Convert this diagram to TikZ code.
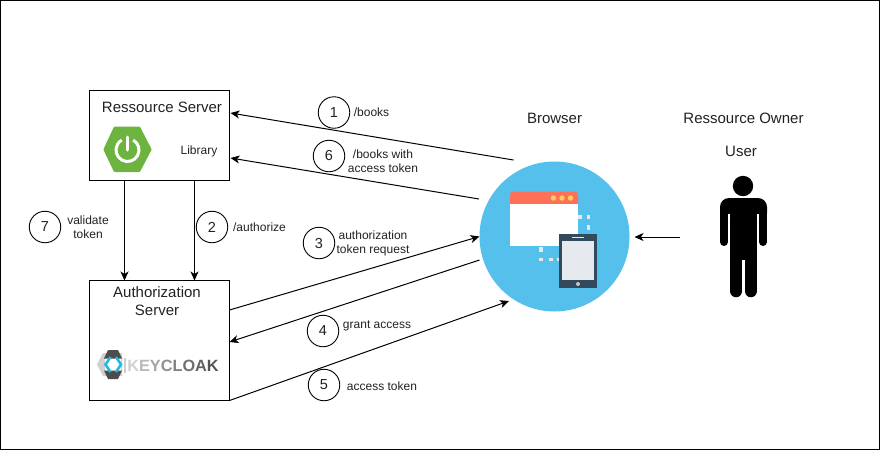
\documentclass[tikz,border=0pt]{standalone}
\usepackage{fontspec}
\setmainfont{Liberation Sans}
\usetikzlibrary{arrows.meta,calc}
\definecolor{ink}{HTML}{000000}
\definecolor{txt}{HTML}{222222}
\definecolor{sky}{HTML}{54C0EB}
\definecolor{slate}{HTML}{324A5E}
\definecolor{pale}{HTML}{E6E9EE}
\definecolor{coral}{HTML}{FF7058}
\definecolor{amber}{HTML}{FFD15C}
\definecolor{springg}{HTML}{6DB33F}
\definecolor{kcd}{HTML}{4D4D4D}
\definecolor{kcl}{HTML}{D0D0D0}
\definecolor{kcc}{HTML}{22B8E6}
\tikzset{
  box/.style={draw=ink,line width=1pt,fill=white,rectangle,inner sep=0pt,outer sep=0pt},
  numc/.style={draw=ink,line width=.9pt,fill=white,circle,minimum size=31.5pt,inner sep=0pt,font=\fontsize{14.5}{16}\selectfont,text=txt},
  big/.style={font=\fontsize{15}{18}\selectfont,text=txt,align=center,inner sep=0pt},
  small/.style={font=\fontsize{12}{14}\selectfont,text=txt,align=center,inner sep=0pt},
  conn/.style={draw=ink,line width=1pt,-{Stealth[length=9pt,width=8pt,inset=2.5pt]}},
  dashm/.style={draw=pale,line width=3.2pt},
}
\begin{document}
\begin{tikzpicture}[x=1pt,y=-1pt]
\useasboundingbox (0,0) rectangle (880,451);
\fill[white] (0,0) rectangle (880,451);
\draw[ink,line width=1.2pt] (.8,.5) rectangle (879.5,449.4);

% boxes
\node[box,minimum width=140pt,minimum height=90pt] (rs) at (159.5,135.5) {};
\node[box,minimum width=140pt,minimum height=120pt] (as) at (159.5,340.5) {};
\node[big] (rst) at (162,107) {Ressource Server};
\node[small] (lib) at (199,151) {Library};
\node[big] (ast) at (157,301) {Authorization\\Server};

% spring logo
\fill[springg,draw=springg,line width=3pt,line join=round] (105,149.5) -- (115,128) -- (139,128) -- (150,149.5) -- (139,170.5) -- (115,170.5) -- cycle;
\begin{scope}[shift={(127.5,150)},y=1pt]
\draw[white,line width=3pt] (60:11.5) arc[start angle=60,end angle=-240,radius=11.5];
\draw[white,line width=3pt,line cap=round] (0,0) -- (0,13);
\end{scope}

% keycloak logo
\fill[kcl] (97,364.5) -- (103,353) -- (122,353) -- (122,376) -- (103,376) -- cycle;
\fill[white] (105,358) rectangle (121,371);
\fill[kcd] (108,350) -- (118,350) -- (122,358.5) -- (104,358.5) -- cycle;
\fill[kcd] (104,370.5) -- (122,370.5) -- (118,379) -- (108,379) -- cycle;
\draw[kcc,line width=2.6pt] (110.5,357) -- (105.5,364.5) -- (110.5,372);
\draw[kcc,line width=2.6pt] (116,357) -- (121,364.5) -- (116,372);
\fill[kcl] (124,358) rectangle (125.5,373);
\node[inner sep=0pt,font=\fontsize{16.3}{18}\selectfont\bfseries] (kc) at (173,366) {\textcolor{kcl}{K}\textcolor[HTML]{B8B8B8}{E}\textcolor[HTML]{A4A4A4}{Y}\textcolor[HTML]{909090}{C}\textcolor[HTML]{808080}{L}\textcolor[HTML]{707070}{O}\textcolor[HTML]{626262}{A}\textcolor[HTML]{555555}{K}};

% browser
\node[circle,fill=sky,minimum size=150pt,inner sep=0pt,outer sep=0pt] (browser) at (554.5,236.5) {};
\fill[white] (510,204) rectangle (578,246);
\fill[coral,rounded corners=3pt] (510,210) -- (510,191.7) -- (578,191.7) -- (578,210) -- cycle;
\fill[white] (510,204) rectangle (578,211);
\foreach \xx in {553.5,562,570.5}{\fill[amber] (\xx,198) circle[radius=2.7];}
\draw[dashm] (578,217) -- (581.5,217);
\draw[dashm] (586.5,217) -- (590,217);
\draw[dashm] (588.5,225) -- (588.5,230);
\draw[dashm] (541,247) -- (541,252);
\draw[dashm] (539,259.5) -- (543,259.5);
\draw[dashm] (548.5,259.5) -- (553,259.5);
\draw[dashm] (557,259.5) -- (559,259.5);
\fill[slate] (558.7,234) rectangle (597.3,288);
\fill[pale] (562.3,241) rectangle (594,280);
\fill[gray!45] (578,284) circle[radius=2];
\fill[pale] (572,236.5) rectangle (584,238);

% person
\fill[ink] (743,186) circle[radius=10.2];
\fill[ink,rounded corners=9pt] (720,222) -- (720,198) -- (767,198) -- (767,222) -- cycle;
\fill[white] (728,214) rectangle (730,222);
\fill[white] (757,214) rectangle (759,222);
\fill[ink] (730,205) rectangle (757,260);
\draw[ink,line width=8pt,line cap=round] (724,208) -- (724,242);
\draw[ink,line width=8pt,line cap=round] (763,208) -- (763,242);
\draw[ink,line width=12.5pt,line cap=round] (736.2,250) -- (736.2,291);
\draw[ink,line width=12.5pt,line cap=round] (750.8,250) -- (750.8,291);
\coordinate (userl) at (680,237);

% top labels
\node[big] (tbr) at (554.5,118) {Browser};
\node[big] (tow) at (743.5,118) {Ressource Owner};
\node[big] (tus) at (741,151) {User};

% connectors
\draw[conn] ($(browser.center)+(-41,-76.5)$) -- ($(rs.east)+(1,-22.5)$);
\draw[conn] ($(browser.center)+(-75.5,-37.5)$) -- ($(rs.east)+(1,22.5)$);
\draw[conn] ($(rs.south west)+(35,0)$) -- ($(as.north west)+(35,0)$);
\draw[conn] ($(rs.south west)+(105,0)$) -- ($(as.north west)+(105,0)$);
\draw[conn] ($(as.east)+(0,-30.5)$) -- (browser.west);
\draw[conn] ($(browser.center)+(-75,23.5)$) -- ($(as.east)+(0,1.5)$);
\draw[conn] (as.south east) -- ($(browser.center)+(-45.5,64.5)$);
\draw[conn] (userl) -- ($(browser.east)+(5,0.5)$);

% number circles
\node[numc] (n1) at (334,112.5) {1};
\node[numc] (n6) at (329,156) {6};
\node[numc] (n7) at (45,227) {7};
\node[numc] (n2) at (212,227) {2};
\node[numc] (n3) at (319,243) {3};
\node[numc] (n4) at (323,331) {4};
\node[numc] (n5) at (324,385) {5};

% labels
\node[small] (l1) at (371.5,112.5) {/books};
\node[small] (l6) at (383,161) {/books with\\access token};
\node[small] (l7) at (88,227) {validate\\token};
\node[small] (l2) at (259.5,227) {/authorize};
\node[small] (l3) at (373,243) {authorization\\token request};
\node[small] (l4) at (377,326) {grant access};
\node[small] (l5) at (382,386) {access token};
\end{tikzpicture}
\end{document}
